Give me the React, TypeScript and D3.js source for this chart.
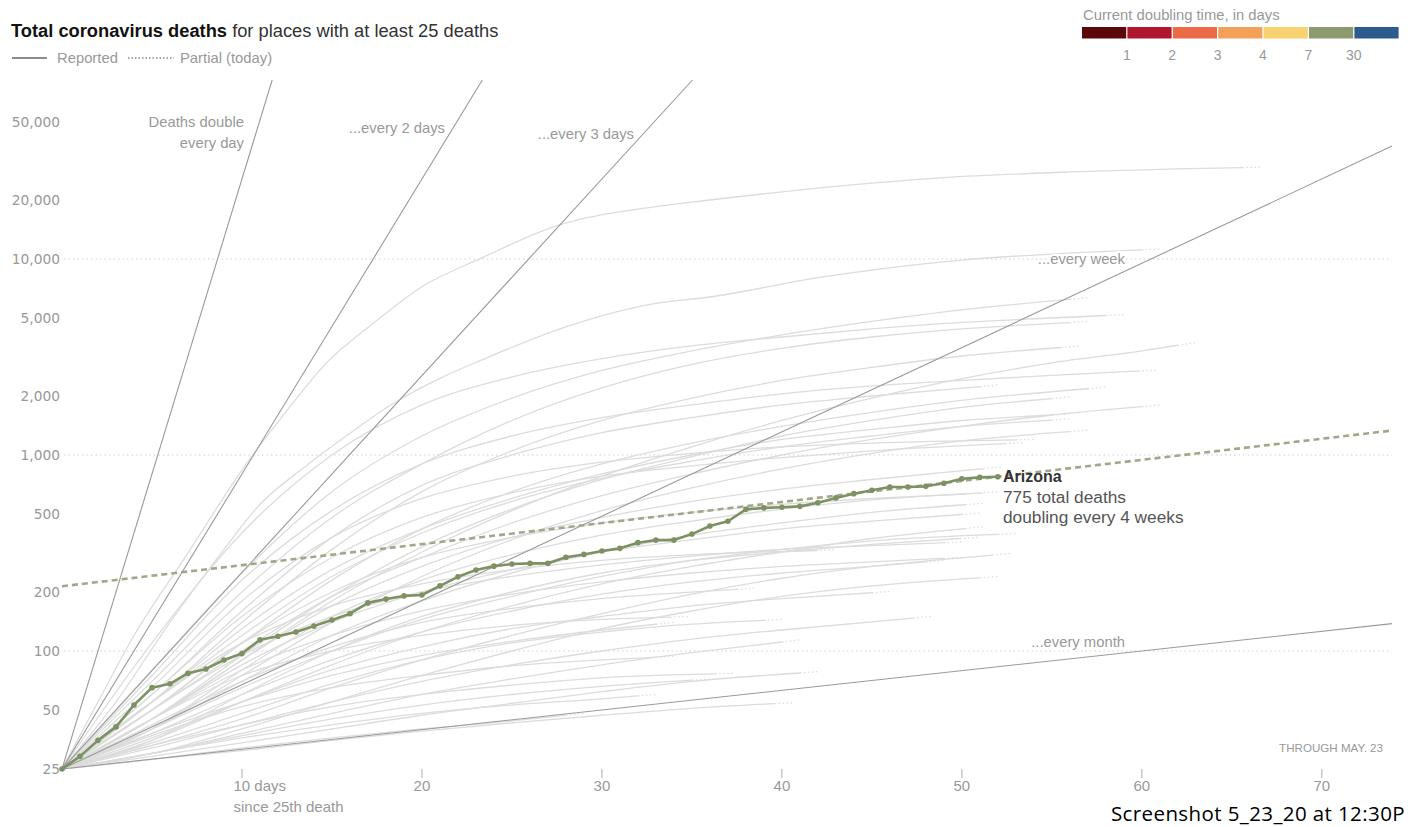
import React from "react";
import * as d3 from "d3";

// Canvas
const W = 1423;
const H = 827;

// Axis ticks
const yTickValues = [25, 50, 100, 200, 500, 1000, 2000, 5000, 10000, 20000, 50000];
const gridValues = [100, 1000, 10000];
const xTickValues = [10, 20, 30, 40, 50, 60, 70];
const X_MAX = 73.9;

// Reference doubling-time guides (days)
const guideDoublingDays = [1, 2, 3, 7, 30];

// Colour key for the current doubling time
const keyColors = ["#5b080b", "#b0162e", "#ec6b47", "#f3a159", "#f8d172", "#8b9b6f", "#2d5c8c"];
const keyLabels = ["1", "2", "3", "4", "7", "30"];

// Highlighted place: cumulative deaths per day since the 25th death
const arizonaDeaths = [
  25, 29, 35, 41, 53, 65, 68, 77, 81, 90, 97, 114, 119, 125, 134, 144, 155, 176, 184, 191,
  193, 215, 239, 259, 271, 278, 280, 280, 301, 311, 324, 334, 357, 368, 368, 395, 434, 459,
  528, 537, 541, 547, 571, 604, 635, 661, 687, 687, 692, 717, 757, 769, 775,
];
const arizonaDoublingDays = 28; // "doubling every 4 weeks"

// Other places: [days since 25th death, cumulative deaths]; last pair is today's partial count
const otherPlaces: [number, number][][] = [
  [[0, 25], [2, 55], [4, 120], [7, 316], [10, 838], [12.4, 1640], [14.7, 2950], [17.3, 4700], [20, 7220], [23.3, 10100], [27.3, 14600], [33, 18500], [36, 20000], [42, 23000], [49, 26000], [56, 27800], [62, 28800], [66.6, 29400]],
  [[0, 25], [3, 55], [6, 140], [9, 330], [11, 560], [13.5, 870], [16, 1290], [18.4, 1830], [21, 2460], [23.3, 3050], [28, 4510], [33, 5940], [36, 6400], [42, 8030], [50, 9880], [55, 10600], [61, 11250]],
  [[0, 25], [5, 80], [10, 250], [15, 650], [20, 1250], [25, 1950], [30, 2700], [35, 3400], [40, 4100], [45, 4800], [50, 5500], [57, 6350]],
  [[0, 25], [5, 110], [10, 400], [15, 1000], [20, 1800], [25, 2500], [30, 3100], [35, 3600], [40, 4000], [45, 4400], [50, 4750], [55, 5000], [59, 5200]],
  [[0, 25], [5, 70], [10, 200], [15, 480], [20, 900], [25, 1500], [30, 2200], [35, 2900], [40, 3500], [45, 4000], [50, 4400], [57, 4800]],
  [[0, 25], [5, 55], [10, 140], [15, 330], [20, 650], [25, 1050], [30, 1500], [35, 1950], [40, 2400], [45, 2800], [50, 3200], [56.5, 3600]],
  [[0, 25], [5, 45], [10, 90], [15, 180], [20, 320], [25, 520], [30, 780], [35, 1100], [40, 1500], [45, 1950], [50, 2450], [55, 2950], [60, 3400], [63, 3750]],
  [[0, 25], [5, 75], [10, 230], [15, 520], [20, 900], [25, 1250], [30, 1550], [35, 1800], [40, 2050], [45, 2250], [50, 2400], [55, 2550], [60.8, 2710]],
  [[0, 25], [5, 50], [10, 110], [15, 230], [20, 420], [25, 650], [30, 900], [35, 1150], [40, 1400], [45, 1650], [50, 1900], [58, 2220]],
  [[0, 25], [5, 60], [10, 160], [15, 380], [20, 700], [25, 1000], [30, 1300], [35, 1550], [40, 1800], [45, 2000], [52, 2270]],
  [[0, 25], [5, 45], [10, 95], [15, 190], [20, 340], [25, 530], [30, 750], [35, 980], [40, 1250], [45, 1500], [50, 1750], [56, 1980]],
  [[0, 25], [5, 50], [10, 100], [15, 190], [20, 300], [25, 450], [30, 620], [35, 800], [40, 1000], [45, 1200], [50, 1400], [55, 1600], [61, 1800]],
  [[0, 25], [5, 55], [10, 120], [15, 240], [20, 400], [25, 580], [30, 760], [35, 930], [40, 1100], [45, 1250], [50, 1400], [56, 1530]],
  [[0, 25], [5, 40], [10, 75], [15, 140], [20, 240], [25, 370], [30, 520], [35, 680], [40, 850], [45, 1020], [50, 1180], [57, 1340]],
  [[0, 25], [5, 60], [10, 150], [15, 300], [20, 480], [25, 640], [30, 780], [35, 880], [40, 970], [45, 1050], [53.4, 1155]],
  [[0, 25], [5, 45], [10, 90], [15, 170], [20, 270], [25, 380], [30, 480], [35, 580], [40, 670], [45, 750], [52.2, 870]],
  [[0, 25], [5, 50], [10, 110], [15, 200], [20, 300], [25, 380], [30, 450], [35, 510], [40, 560], [45, 600], [51.2, 638]],
  [[0, 25], [5, 40], [10, 70], [15, 120], [20, 180], [25, 250], [30, 320], [35, 390], [40, 450], [45, 510], [51.2, 567]],
  [[0, 25], [5, 45], [10, 85], [15, 140], [20, 200], [25, 260], [30, 320], [35, 370], [40, 420], [45, 460], [51, 505]],
  [[0, 25], [5, 35], [10, 55], [15, 85], [20, 125], [25, 170], [30, 220], [35, 270], [40, 320], [45, 375], [51.2, 431]],
  [[0, 25], [5, 40], [10, 65], [15, 100], [20, 145], [25, 190], [30, 240], [35, 290], [40, 330], [45, 365], [53, 398]],
  [[0, 25], [5, 50], [10, 95], [15, 150], [20, 200], [25, 240], [30, 275], [35, 305], [40, 330], [45, 345], [50, 360]],
  [[0, 25], [5, 33], [10, 45], [15, 65], [20, 90], [25, 120], [30, 155], [35, 195], [40, 235], [45, 270], [52.7, 315]],
  [[0, 25], [5, 38], [10, 60], [15, 90], [20, 125], [25, 160], [30, 195], [35, 225], [40, 250], [45, 270], [49, 290]],
  [[0, 25], [5, 36], [10, 55], [15, 80], [20, 105], [25, 130], [30, 150], [35, 170], [40, 185], [46, 201]],
  [[0, 25], [5, 55], [10, 110], [15, 170], [20, 220], [25, 260], [30, 290], [35, 310], [42.9, 328]],
  [[0, 25], [5, 32], [10, 42], [15, 55], [20, 70], [25, 85], [30, 100], [35, 115], [40, 128], [48.3, 150]],
  [[0, 25], [5, 42], [10, 70], [15, 105], [20, 140], [25, 165], [30, 185], [38.5, 209]],
  [[0, 25], [5, 30], [10, 38], [15, 48], [20, 60], [25, 72], [30, 85], [35, 98], [41, 114]],
  [[0, 25], [5, 29], [10, 34], [15, 40], [20, 47], [25, 54], [30, 62], [35, 70], [42, 78.5]],
  [[0, 25], [5, 28], [10, 31], [15, 35], [20, 39], [25, 43], [30, 47], [35, 51], [40.6, 54.5]],
  [[0, 25], [5, 45], [10, 75], [15, 100], [20, 120], [25, 135], [30, 145], [34.8, 150]],
  [[0, 25], [5, 37], [10, 52], [15, 65], [20, 75], [25, 84], [30, 90], [34, 94]],
  [[0, 25], [5, 33], [10, 42], [15, 52], [20, 60], [25, 67], [30, 73], [37.3, 77]],
  [[0, 25], [5, 65], [10, 180], [15, 380], [20, 600], [25, 780], [30, 920], [35, 1020], [40, 1100], [45, 1150], [54, 1200]],
  [[0, 25], [5, 40], [10, 80], [15, 150], [20, 230], [25, 310], [30, 390], [35, 460], [40, 530], [45, 590], [52, 650]],
  [[0, 25], [5, 35], [10, 60], [15, 100], [20, 150], [25, 200], [30, 250], [35, 290], [40, 320], [45, 350], [50.9, 380]],
  [[0, 25], [5, 45], [10, 80], [15, 120], [20, 160], [25, 195], [30, 225], [35, 250], [40, 270], [45, 285], [50, 300]],
  [[0, 25], [5, 30], [10, 40], [15, 55], [20, 75], [25, 100], [30, 130], [35, 160], [40, 190], [45, 215], [52, 240]],
  [[0, 25], [5, 34], [10, 48], [15, 68], [20, 90], [25, 110], [30, 125], [35, 137], [40, 145]],
  [[0, 25], [5, 30], [10, 37], [15, 45], [20, 53], [25, 60], [30, 66], [36, 72]],
  [[0, 25], [5, 38], [10, 55], [15, 75], [20, 95], [25, 112], [30, 128], [34, 140]],
  [[0, 25], [5, 30], [10, 36], [15, 42], [20, 48], [25, 53], [30, 57], [33, 60]],
  [[0, 25], [5, 28], [10, 32], [15, 36], [20, 40], [25, 44], [29, 48]],
  [[0, 25], [5, 55], [10, 130], [15, 260], [20, 420], [25, 600], [30, 800], [35, 1000], [40, 1200], [45, 1350], [50, 1500], [56, 1620]],
];

const SANS = "'Liberation Sans', Arial, sans-serif";
const NUM = "'DejaVu Sans', sans-serif";
const AZ_GREEN = "#7c9262";
const AZ_TREND = "#a1a887";
const GUIDE = "#9a9a9a";
const LABEL = "#999999";

export default function App() {
  const x = d3.scaleLinear().domain([0, X_MAX]).range([62, 1392]);
  const y = d3.scaleLog().domain([25, 50000]).range([769, 122]);
  const topY = 80;

  const smooth = d3.line<[number, number]>().curve(d3.curveMonotoneX);

  // Grey lines: solid up to one day before the last point, dotted for today's partial count
  const greyPaths = otherPlaces.map((pts) => {
    const px: [number, number][] = pts.map(([d, v]) => [x(d), y(v)]);
    const n = px.length;
    const span = pts[n - 1][0] - pts[n - 2][0];
    const t = Math.max(0, 1 - 1 / span);
    const split: [number, number] = [
      px[n - 2][0] + (px[n - 1][0] - px[n - 2][0]) * t,
      px[n - 2][1] + (px[n - 1][1] - px[n - 2][1]) * t,
    ];
    return {
      solid: smooth([...px.slice(0, n - 1), split]) || "",
      tail: `M${split[0]},${split[1]}L${px[n - 1][0]},${px[n - 1][1]}`,
    };
  });

  // Doubling guides run from (0, 25) until they leave the plot
  const topValue = y.invert(topY);
  const guides = guideDoublingDays.map((T) => {
    const dEnd = Math.min(X_MAX, T * Math.log2(topValue / 25));
    return { x1: x(0), y1: y(25), x2: x(dEnd), y2: y(25 * Math.pow(2, dEnd / T)) };
  });

  const azLast = arizonaDeaths.length - 1;
  const azValue = arizonaDeaths[azLast];
  const trendAt = (d: number) => azValue * Math.pow(2, (d - azLast) / arizonaDoublingDays);

  const azPts: [number, number][] = arizonaDeaths.map((v, i) => [x(i), y(v)]);
  const azPath = d3.line<[number, number]>()(azPts) || "";

  const keyX0 = 1082;
  const keyW = 45.4;

  return (
    <svg width={W} height={H} style={{ display: "block", position: "absolute", left: 0, top: 0, background: "#fff" }}>
      <rect width={W} height={H} fill="#fff" />

      {/* Title and line-style legend */}
      <text x={11} y={37} fontFamily={SANS} fontSize={18.3} fill="#333">
        <tspan fontWeight="bold" fill="#121212">Total coronavirus deaths</tspan>
        <tspan> for places with at least 25 deaths</tspan>
      </text>
      <line x1={12} x2={47} y1={58} y2={58} stroke="#666" strokeWidth={1.5} />
      <text x={57} y={63} fontFamily={SANS} fontSize={14.8} fill={LABEL}>Reported</text>
      <line x1={128} x2={174} y1={58} y2={58} stroke="#888" strokeWidth={1.5} strokeDasharray="1.5,2" />
      <text x={180} y={63} fontFamily={SANS} fontSize={14.8} fill={LABEL}>Partial (today)</text>

      {/* Doubling-time colour key */}
      <text x={1083} y={20} fontFamily={SANS} fontSize={14.8} fill={LABEL}>Current doubling time, in days</text>
      {keyColors.map((c, i) => (
        <rect key={c} x={keyX0 + i * keyW} y={27} width={keyW - 1.2} height={11.5} fill={c} />
      ))}
      {keyLabels.map((l, i) => (
        <text key={l} x={keyX0 + (i + 1) * keyW - 0.6} y={60} textAnchor="middle" fontFamily={SANS} fontSize={14} fill={LABEL}>
          {l}
        </text>
      ))}

      {/* Gridlines */}
      {gridValues.map((v) => (
        <line key={v} x1={64} x2={1392} y1={y(v)} y2={y(v)} stroke="#cfcfcf" strokeWidth={1} strokeDasharray="1.5,3" />
      ))}

      {/* Y axis labels */}
      {yTickValues.map((v) => (
        <text key={v} x={60} y={y(v) + 5} textAnchor="end" fontFamily={NUM} fontSize={13.8} fill={LABEL}>
          {d3.format(",")(v)}
        </text>
      ))}

      {/* Other places */}
      <g fill="none" stroke="#dcdcdc" strokeWidth={1.3}>
        {greyPaths.map((p, i) => (
          <g key={i}>
            <path d={p.solid} />
            <path d={p.tail} strokeDasharray="1.5,2.5" />
          </g>
        ))}
      </g>

      {/* Doubling guides */}
      {guides.map((g, i) => (
        <line key={i} x1={g.x1} y1={g.y1} x2={g.x2} y2={g.y2} stroke={GUIDE} strokeWidth={1.1} />
      ))}

      {/* Guide labels */}
      <g fontFamily={SANS} fontSize={14.8} fill={LABEL}>
        <text x={244} y={127} textAnchor="end">Deaths double</text>
        <text x={244} y={148} textAnchor="end">every day</text>
        <text x={445} y={133} textAnchor="end">...every 2 days</text>
        <text x={634} y={139} textAnchor="end">...every 3 days</text>
        <text x={1125} y={264} textAnchor="end" stroke="#fff" strokeWidth={4} paintOrder="stroke">...every week</text>
        <text x={1125} y={647} textAnchor="end" stroke="#fff" strokeWidth={4} paintOrder="stroke">...every month</text>
      </g>

      {/* Arizona trend */}
      <line
        x1={x(0)}
        y1={y(trendAt(0))}
        x2={x(X_MAX)}
        y2={y(trendAt(X_MAX))}
        stroke={AZ_TREND}
        strokeWidth={2.6}
        strokeDasharray="6,4"
      />

      {/* Arizona */}
      <path d={azPath} fill="none" stroke={AZ_GREEN} strokeWidth={2.6} strokeLinejoin="round" />
      {azPts.map((p, i) => (
        <circle key={i} cx={p[0]} cy={p[1]} r={2.8} fill={AZ_GREEN} />
      ))}
      <g fontFamily={SANS}>
        <text x={1003} y={y(azValue) + 5.5} fontSize={16} fontWeight="bold" fill="#333">Arizona</text>
        <text x={1003} y={y(azValue) + 26} fontSize={17.3} fill="#555">{azValue} total deaths</text>
        <text x={1003} y={y(azValue) + 46} fontSize={17.3} fill="#555">doubling every 4 weeks</text>
      </g>

      {/* X axis */}
      {xTickValues.map((d) => (
        <g key={d}>
          <line x1={x(d)} x2={x(d)} y1={769} y2={778} stroke="#aaa" strokeWidth={1} />
          {d === 10 ? (
            <text x={x(d) - 8.5} y={791} fontFamily={SANS} fontSize={15} fill={LABEL}>
              10 days
              <tspan x={x(d) - 8.5} dy={21}>since 25th death</tspan>
            </text>
          ) : (
            <text x={x(d)} y={791} textAnchor="middle" fontFamily={SANS} fontSize={15} fill={LABEL}>
              {d}
            </text>
          )}
        </g>
      ))}

      <text x={1383} y={752} textAnchor="end" fontFamily={SANS} fontSize={11.6} fill={LABEL}>THROUGH MAY. 23</text>

      <text x={1405} y={821} textAnchor="end" fontFamily="'Open Sans', sans-serif" fontSize={20.5} letterSpacing={0.4} fill="#000">
        Screenshot 5_23_20 at 12:30P
      </text>
    </svg>
  );
}
